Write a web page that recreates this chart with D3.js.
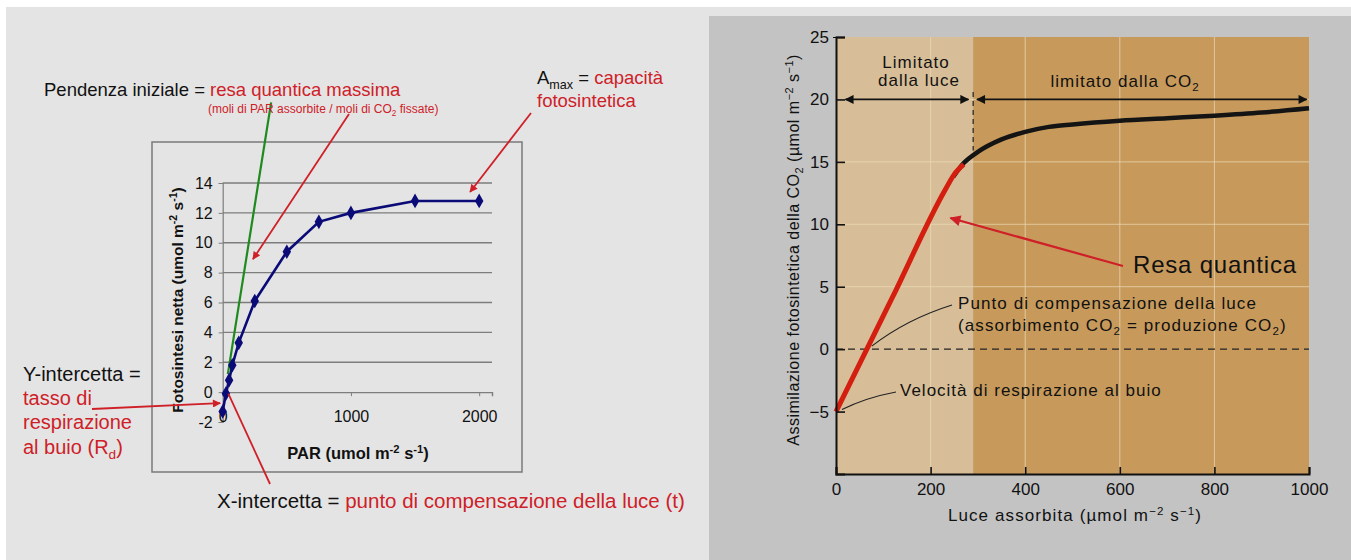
<!DOCTYPE html>
<html>
<head>
<meta charset="utf-8">
<script src="https://cdn.jsdelivr.net/npm/d3@7"></script>
<style>
  body { margin: 0; background: #fff; }
  svg { display: block; font-family: "Liberation Sans", Arial, sans-serif; }
</style>
</head>
<body>
<svg id="chart" width="1351" height="560"></svg>
<script>
// left chart: PAR vs net photosynthesis
const parValues = [0, 25, 50, 75, 125, 250, 500, 750, 1000, 1500, 2000]
const netPhoto = [-1.3, -0.1, 0.8, 1.8, 3.3, 6.1, 9.4, 11.4, 12.0, 12.8, 12.8]
const leftYTicks = [-2, 0, 2, 4, 6, 8, 10, 12, 14]
const leftXTicks = [0, 1000, 2000]
const initialSlopeX = [40, 378]
const initialSlopeY = [1.2, 19.4]

// right chart: absorbed light vs CO2 assimilation
const lightLimX = [0, 120, 230, 250, 270]
const lightLimY = [-5, 4.2, 12.7, 14.0, 14.8]
const co2LimX = [248, 270, 300, 350, 400, 450, 500, 600, 700, 800, 900, 1000]
const co2LimY = [13.8, 14.9, 15.8, 16.8, 17.4, 17.8, 18.0, 18.3, 18.5, 18.7, 18.95, 19.3]
const rightYTicks = [-5, 0, 5, 10, 15, 20, 25]
const rightXTicks = [0, 200, 400, 600, 800, 1000]
const rightGridY = [5, 10, 15, 20]
const rightGridX = [200, 400, 600, 800]
const limitBoundary = 290

const RED = "#cf2028"
const svg = d3.select("#chart")

// markers
const defs = svg.append("defs")
function addMarker(id, color, w, h) {
    defs.append("marker")
        .attr("id", id)
        .attr("viewBox", "0 0 10 10")
        .attr("refX", 9).attr("refY", 5)
        .attr("markerWidth", w).attr("markerHeight", h)
        .attr("orient", "auto-start-reverse")
        .attr("markerUnits", "userSpaceOnUse")
        .append("path")
        .attr("d", "M0,0 L10,5 L0,10 z")
        .style("fill", color)
}
addMarker("redHead", RED, 9, 8)
addMarker("redBig", RED, 14, 11)
addMarker("blackHead", "#111", 12, 9)

// text with sub/superscripts: parts = [[text, kind, color]]
function richText(g, x, y, parts, size, opts) {
    opts = opts || {}
    let t = g.append("text")
        .attr("x", x).attr("y", y)
        .style("font-size", size + "px")
        .style("font-weight", opts.bold ? "bold" : "normal")
        .style("fill", opts.color || "#111")
        .style("letter-spacing", (opts.ls || 0) + "px")
        .attr("text-anchor", opts.anchor || "start")
    if (opts.transform) t.attr("transform", opts.transform)
    let shift = 0
    parts.forEach(p => {
        let kind = p[1] || ""
        let target = kind == "sup" ? -0.38 * size : kind == "sub" ? 0.25 * size : 0
        let s = t.append("tspan").text(p[0])
            .attr("dy", target - shift)
        if (kind) s.style("font-size", (size * 0.68) + "px")
        if (p[2]) s.style("fill", p[2])
        shift = target
    })
    return t
}

// backgrounds
svg.append("rect").attr("x", 6).attr("y", 7).attr("width", 1345).attr("height", 553).style("fill", "#e4e4e4")
svg.append("rect").attr("x", 709).attr("y", 16).attr("width", 642).attr("height", 544).style("fill", "#c3c3c3")

// ---------------- LEFT ----------------
const left = svg.append("g")
left.append("rect")
    .attr("x", 152).attr("y", 142).attr("width", 370).attr("height", 330)
    .style("fill", "none").style("stroke", "#7a7a7a").style("stroke-width", 1.5)

const xL = d3.scaleLinear().domain([0, 2100]).range([222.7, 492])
const yL = d3.scaleLinear().domain([-2, 14]).range([422, 183])

left.selectAll(".gridL")
    .data(leftYTicks.filter(v => v > 0))
    .enter().append("line")
    .attr("class", "gridL")
    .attr("x1", xL(0)).attr("x2", xL(2100))
    .attr("y1", d => yL(d)).attr("y2", d => yL(d))
    .style("stroke", "#7d7d7d").style("stroke-width", 1.4)

const yAxisL = left.append("g")
    .attr("transform", "translate(" + xL(0) + ",0)")
    .call(d3.axisLeft(yL).tickValues(leftYTicks).tickFormat(d => d.toString()).tickSize(4).tickPadding(6))
yAxisL.select(".domain").style("stroke", "#7d7d7d").style("stroke-width", 1.2)
yAxisL.selectAll(".tick line").style("stroke", "#7d7d7d")
yAxisL.selectAll("text").style("font-size", "16px").style("fill", "#111")
    .style("font-family", "Liberation Sans, Arial, sans-serif")

const xAxisL = left.append("g")
    .attr("transform", "translate(0," + yL(0) + ")")
    .call(d3.axisBottom(xL).tickValues(leftXTicks).tickFormat(d => d.toString()).tickSize(4).tickPadding(15))
xAxisL.select(".domain").style("stroke", "#7d7d7d").style("stroke-width", 1.4)
xAxisL.selectAll(".tick line").style("stroke", "#7d7d7d")
xAxisL.selectAll("text").style("font-size", "16px").style("fill", "#111")
    .style("font-family", "Liberation Sans, Arial, sans-serif")

const leftPts = parValues.map((v, i) => ({x: v, y: netPhoto[i]}))

// green initial slope
left.append("line")
    .attr("x1", xL(initialSlopeX[0])).attr("y1", yL(initialSlopeY[0]))
    .attr("x2", xL(initialSlopeX[1])).attr("y2", yL(initialSlopeY[1]))
    .style("stroke", "#1f8a1f").style("stroke-width", 2.2)

left.append("path")
    .datum(leftPts)
    .attr("d", d3.line().x(d => xL(d.x)).y(d => yL(d.y)))
    .style("fill", "none").style("stroke", "#0b0b78").style("stroke-width", 2.6)

left.selectAll(".pt")
    .data(leftPts)
    .enter().append("path")
    .attr("class", "pt")
    .attr("transform", d => "translate(" + xL(d.x) + "," + yL(d.y) + ")")
    .attr("d", d3.symbol().type(d3.symbolDiamond).size(62))
    .style("fill", "#0b0b78")

// axis titles
richText(left, 0, 0, [["Fotosintesi netta (umol m"], ["-2", "sup"], [" s"], ["-1", "sup"], [")"]], 15.5,
    {bold: true, anchor: "middle", transform: "translate(183,300) rotate(-90)"})
richText(left, 358, 459, [["PAR (umol m"], ["-2", "sup"], [" s"], ["-1", "sup"], [")"]], 16.5,
    {bold: true, anchor: "middle"})

// red leader arrows
function redArrow(g, x1, y1, x2, y2, head) {
    g.append("line")
        .attr("x1", x1).attr("y1", y1).attr("x2", x2).attr("y2", y2)
        .style("stroke", RED).style("stroke-width", 1.8)
        .attr("marker-end", head ? "url(#redHead)" : null)
}
redArrow(left, 349, 114, xL(236), yL(8.9), true)
redArrow(left, 531, 113, xL(1929), yL(13.4), true)
redArrow(left, 92, 409, xL(-20), yL(-0.74), true)
redArrow(left, xL(44), yL(-0.1), 270, 484, false)

// annotation texts
richText(left, 44, 96, [["Pendenza iniziale = "], ["resa quantica massima", "", RED]], 18.5)
richText(left, 208, 113, [["(moli di PAR assorbite / moli di CO"], ["2", "sub"], [" fissate)"]], 12, {color: RED})
richText(left, 537, 84, [["A"], ["max", "sub", "#111"], [" = "], ["capacità", "", RED]], 18.5)
richText(left, 537, 107, [["fotosintetica"]], 18.5, {color: RED})
richText(left, 23, 381, [["Y-intercetta ="]], 20)
richText(left, 23, 405, [["tasso di"]], 20, {color: RED})
richText(left, 23, 429, [["respirazione"]], 20, {color: RED})
richText(left, 23, 454, [["al buio (R"], ["d", "sub"], [")"]], 20, {color: RED})
richText(left, 217, 508, [["X-intercetta = "], ["punto di compensazione della luce (t)", "", RED]], 20.5)

// ---------------- RIGHT ----------------
const right = svg.append("g")
const xR = d3.scaleLinear().domain([0, 1000]).range([836, 1309])
const yR = d3.scaleLinear().domain([-10, 25]).range([474, 37])

right.append("rect")
    .attr("x", xR(0)).attr("y", yR(25))
    .attr("width", xR(limitBoundary) - xR(0)).attr("height", yR(-10) - yR(25))
    .style("fill", "#d7be98")
right.append("rect")
    .attr("x", xR(limitBoundary)).attr("y", yR(25))
    .attr("width", xR(1000) - xR(limitBoundary)).attr("height", yR(-10) - yR(25))
    .style("fill", "#c79a5c")

right.selectAll(".gridRY")
    .data(rightGridY)
    .enter().append("line")
    .attr("class", "gridRY")
    .attr("x1", xR(0)).attr("x2", xR(1000))
    .attr("y1", d => yR(d)).attr("y2", d => yR(d))
    .style("stroke", "#ecdcb8").style("stroke-width", 1).style("opacity", 0.7)
right.selectAll(".gridRX")
    .data(rightGridX)
    .enter().append("line")
    .attr("class", "gridRX")
    .attr("x1", d => xR(d)).attr("x2", d => xR(d))
    .attr("y1", yR(25)).attr("y2", yR(-10))
    .style("stroke", "#ecdcb8").style("stroke-width", 1).style("opacity", 0.7)

// zero dashed line
right.append("line")
    .attr("x1", xR(0)).attr("x2", xR(1000))
    .attr("y1", yR(0)).attr("y2", yR(0))
    .style("stroke", "#222").style("stroke-width", 1.3).style("stroke-dasharray", "7,5")

// boundary dashed line
right.append("line")
    .attr("x1", xR(limitBoundary)).attr("x2", xR(limitBoundary))
    .attr("y1", yR(20.6)).attr("y2", yR(15.9))
    .style("stroke", "#222").style("stroke-width", 1.2).style("stroke-dasharray", "5,4")

// double arrows
right.append("line")
    .attr("x1", xR(20)).attr("x2", xR(limitBoundary - 10))
    .attr("y1", yR(20)).attr("y2", yR(20))
    .style("stroke", "#111").style("stroke-width", 1.8)
    .attr("marker-start", "url(#blackHead)").attr("marker-end", "url(#blackHead)")
right.append("line")
    .attr("x1", xR(limitBoundary + 8)).attr("x2", xR(995))
    .attr("y1", yR(20)).attr("y2", yR(20))
    .style("stroke", "#111").style("stroke-width", 1.8)
    .attr("marker-start", "url(#blackHead)").attr("marker-end", "url(#blackHead)")

const lineR = d3.line().x(d => xR(d.x)).y(d => yR(d.y)).curve(d3.curveMonotoneX)
right.append("path")
    .datum(co2LimX.map((v, i) => ({x: v, y: co2LimY[i]})))
    .attr("d", lineR)
    .style("fill", "none").style("stroke", "#141414").style("stroke-width", 4.5)
right.append("path")
    .datum(lightLimX.map((v, i) => ({x: v, y: lightLimY[i]})))
    .attr("d", lineR)
    .style("fill", "none").style("stroke", "#d41e10").style("stroke-width", 5)

// axes
const yAxisR = right.append("g")
    .attr("transform", "translate(" + xR(0) + ",0)")
    .call(d3.axisLeft(yR).tickValues(rightYTicks).tickFormat(d3.format("d")).tickSize(-9).tickPadding(7))
yAxisR.select(".domain").style("stroke", "#111").style("stroke-width", 2)
yAxisR.selectAll(".tick line").style("stroke", "#111").style("stroke-width", 1.6)
yAxisR.selectAll("text").style("font-size", "17px").style("fill", "#111")
    .style("font-family", "Liberation Sans, Arial, sans-serif")
yAxisR.selectAll(".tick").filter(d => d == 25).append("line")
    .attr("x1", 0).attr("x2", -3).style("stroke", "#111")

const xAxisR = right.append("g")
    .attr("transform", "translate(0," + yR(-10) + ")")
    .call(d3.axisBottom(xR).tickValues(rightXTicks).tickFormat(d3.format("d")).tickSize(-7).tickPadding(9))
xAxisR.select(".domain").style("stroke", "#111").style("stroke-width", 2)
xAxisR.selectAll(".tick line").style("stroke", "#111").style("stroke-width", 1.6)
xAxisR.selectAll("text").style("font-size", "17px").style("fill", "#111")
    .style("font-family", "Liberation Sans, Arial, sans-serif")

richText(right, 0, 0, [["Assimilazione fotosintetica della CO"], ["2", "sub"], [" (µmol m"], ["−2", "sup"], [" s"], ["−1", "sup"], [")"]], 16,
    {anchor: "middle", ls: 0.5, transform: "translate(799,250) rotate(-90)"})
richText(right, 1075, 521, [["Luce assorbita (µmol m"], ["−2", "sup"], [" s"], ["−1", "sup"], [")"]], 17, {anchor: "middle", ls: 1.1})

// region labels
richText(right, 916, 68, [["Limitato"]], 17, {anchor: "middle", ls: 1})
richText(right, 919, 86, [["dalla luce"]], 17, {anchor: "middle", ls: 1})
richText(right, 1125, 87, [["limitato dalla CO"], ["2", "sub"]], 17, {anchor: "middle", ls: 1})

// Resa quantica
right.append("line")
    .attr("x1", 1123).attr("y1", 266)
    .attr("x2", xR(242)).attr("y2", yR(10.5))
    .style("stroke", RED).style("stroke-width", 2.2)
    .attr("marker-end", "url(#redBig)")
richText(right, 1133, 273, [["Resa quantica"]], 24, {ls: 0.8})

// compensation point / dark respiration leaders
const cx = xR(65), cy = yR(0)
right.append("path")
    .attr("d", "M" + (cx + 5) + "," + (cy - 3) + " Q" + (cx + 40) + "," + (cy - 30) + " " + 952 + "," + 305)
    .style("fill", "none").style("stroke", "#222").style("stroke-width", 1.2)
richText(right, 958, 309, [["Punto di compensazione della luce"]], 17, {ls: 1.1})
richText(right, 958, 331, [["(assorbimento CO"], ["2", "sub"], [" = produzione CO"], ["2", "sub"], [")"]], 17, {ls: 1.1})

const rx = xR(0), ry = yR(-5)
right.append("path")
    .attr("d", "M" + (rx + 6) + "," + (ry - 2) + " Q" + (rx + 30) + "," + (ry - 14) + " " + 896 + "," + 392)
    .style("fill", "none").style("stroke", "#222").style("stroke-width", 1.2)
richText(right, 900, 396, [["Velocità di respirazione al buio"]], 17, {ls: 1})
</script>
</body>
</html>
